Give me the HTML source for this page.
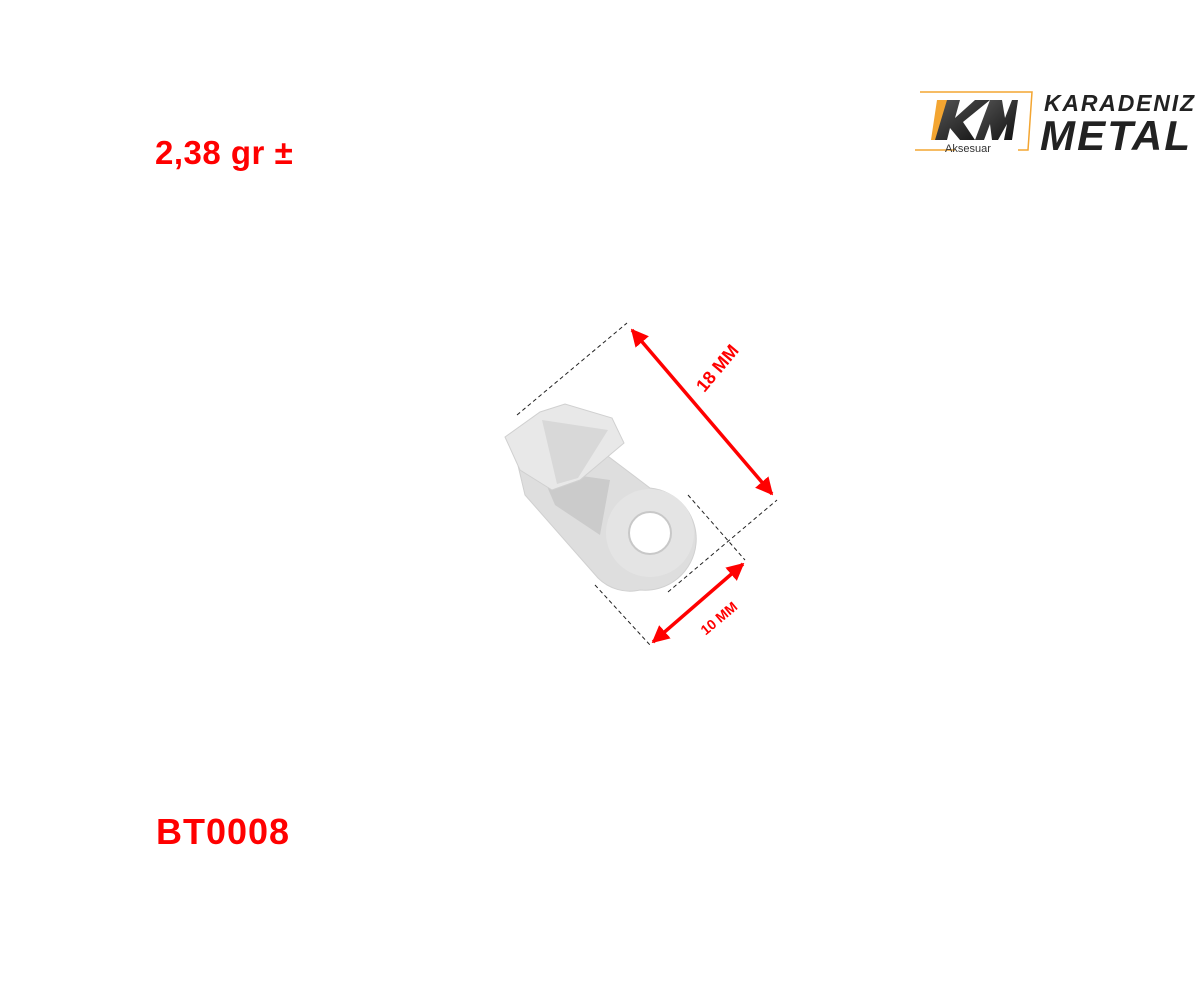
<!DOCTYPE html>
<html><head><meta charset="utf-8"><style>
body{margin:0;width:1200px;height:984px;background:#fff;overflow:hidden;position:relative;font-family:"Liberation Sans",sans-serif}
.t{position:absolute;color:#f00;font-weight:bold}
</style></head><body>
<div class="t" style="left:155px;top:134px;font-size:33px;letter-spacing:0.5px">2,38 gr ±</div>
<div class="t" style="left:156px;top:811px;font-size:36px;letter-spacing:1px">BT0008</div>
<svg width="1200" height="984" style="position:absolute;left:0;top:0">
<defs>
<linearGradient id="km" x1="0" y1="0" x2="1" y2="1"><stop offset="0" stop-color="#555"/><stop offset="1" stop-color="#111"/></linearGradient>
<marker id="ah" viewBox="0 0 10 10" refX="9" refY="5" markerWidth="5" markerHeight="5" orient="auto-start-reverse"><path d="M0,0L10,5L0,10z" fill="#f00"/></marker>
</defs>
<path d="M920,92H1032L1028,150H1018M955,150H915Z" fill="none" stroke="#f3a531" stroke-width="1.5"/>
<polygon points="937,100 953,100 945,140 931,140" fill="#f3a531"/>
<polygon points="947,100 960,100 955,118 975,100 990,100 963,122 975,140 960,140 950,128 947,140 935,140" fill="url(#km)"/>
<polygon points="990,100 1002,100 1005,118 1012,100 1018,100 1012,140 1004,140 1007,124 998,140 992,140 990,124 984,140 975,140" fill="url(#km)"/>
<text x="945" y="152" font-size="11" fill="#333" font-family="Liberation Sans">Aksesuar</text>
<text x="1044" y="111" font-size="23" font-weight="bold" font-style="italic" fill="#222" font-family="Liberation Sans" textLength="150">KARADENIZ</text>
<text x="1040" y="150" font-size="42" font-weight="bold" font-style="italic" fill="#222" font-family="Liberation Sans" textLength="150">METAL</text>
<path d="M512,440L560,420L650,488A45,45 0 0 1 640,590A45,45 0 0 1 598,578L525,495Z" fill="#dedede" stroke="#d0d0d0"/>
<path d="M540,470L610,480L600,535L555,505Z" fill="#cbcbcb"/>
<circle cx="650" cy="533" r="44" fill="#e4e4e4"/>
<circle cx="650" cy="533" r="21" fill="#fff" stroke="#c8c8c8" stroke-width="2"/>
<path d="M505,437L540,412L565,404L612,418L624,443L580,480L552,490L520,470Z" fill="#e8e8e8" stroke="#d0d0d0"/>
<path d="M542,420L608,430L578,478L557,484Z" fill="#d2d2d2" opacity="0.7"/>
<g stroke="#222" stroke-width="1" stroke-dasharray="4,3" fill="none">
<line x1="517" y1="415" x2="627" y2="323"/>
<line x1="668" y1="592" x2="777" y2="500"/>
<line x1="688" y1="495" x2="745" y2="560"/>
<line x1="595" y1="585" x2="650" y2="645"/>
</g>
<g stroke="#f00" stroke-width="3.5" fill="none">
<line x1="632" y1="330" x2="772" y2="494" marker-start="url(#ah)" marker-end="url(#ah)"/>
<line x1="653" y1="642" x2="743" y2="564" marker-start="url(#ah)" marker-end="url(#ah)"/>
</g>
<text transform="translate(722,372) rotate(-50)" text-anchor="middle" font-size="18" font-weight="bold" fill="#f00">18 MM</text>
<text transform="translate(722,622) rotate(-40)" text-anchor="middle" font-size="14" font-weight="bold" fill="#f00">10 MM</text>
</svg>
</body></html>
